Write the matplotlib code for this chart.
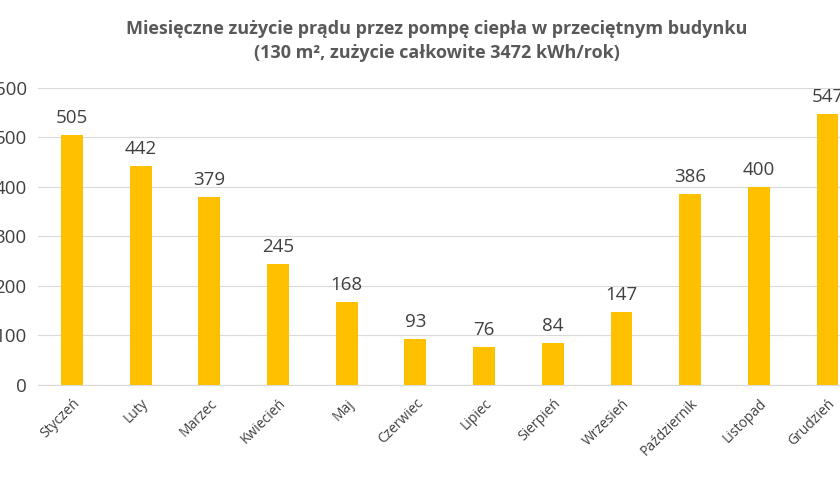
import matplotlib
matplotlib.use("Agg")
import matplotlib.pyplot as plt

plt.rcParams['font.family'] = ['Open Sans', 'DejaVu Sans']

months = ["Styczeń", "Luty", "Marzec", "Kwiecień", "Maj", "Czerwiec", "Lipiec",
          "Sierpień", "Wrzesień", "Październik", "Listopad", "Grudzień"]
values = [505, 442, 379, 245, 168, 93, 76, 84, 147, 386, 400, 547]
yticks = [0, 100, 200, 300, 400, 500, 600]

fig = plt.figure(figsize=(8.4, 4.8), dpi=100)
ax = fig.add_axes([0.045, 0.198, 0.981, 0.619])
x = range(len(months))
ax.bar(x, values, width=0.32, color="#FFC000", zorder=3)
for xi, v in zip(x, values):
    ax.text(xi, v + 16, str(v), ha="center", va="bottom", fontsize=13.5, color="#404040")
ax.set_xlim(-0.5, len(months) - 0.5)
ax.set_ylim(0, 600)
ax.set_yticks(yticks)
ax.set_yticklabels([str(t) for t in yticks], fontsize=13.5, color="#404040")
ax.set_xticks(list(x))
ax.set_xticklabels(months, rotation=45, ha="right", rotation_mode="anchor", fontsize=10, color="#404040")
ax.grid(axis="y", color="#D9D9D9", linewidth=0.8, zorder=0)
for s in ["top", "right", "left"]:
    ax.spines[s].set_visible(False)
ax.spines["bottom"].set_color("#D9D9D9")
ax.tick_params(length=0, pad=8)
fig.text(0.52, 0.915, "Miesięczne zużycie prądu przez pompę ciepła w przeciętnym budynku\n(130 m², zużycie całkowite 3472 kWh/rok)",
         ha="center", va="center", fontsize=13, fontweight="bold", color="#595959", linespacing=1.45)
fig.savefig("out.png", dpi=100)
